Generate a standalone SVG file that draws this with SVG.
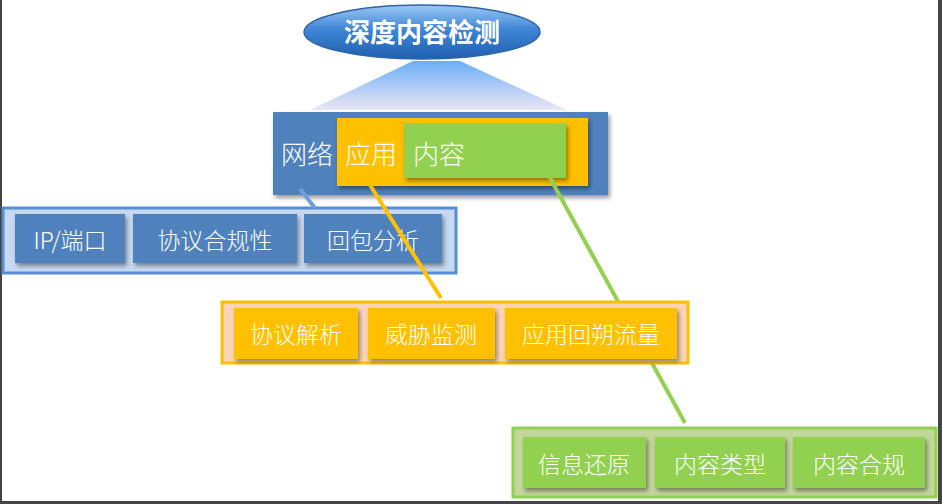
<svg xmlns="http://www.w3.org/2000/svg" width="942" height="504" viewBox="0 0 942 504">
<defs>
<linearGradient id="ell" x1="0" y1="0" x2="0" y2="1"><stop offset="0" stop-color="#9cc8f5"/><stop offset="0.45" stop-color="#3f86d6"/><stop offset="1" stop-color="#1f5fae"/></linearGradient>
<linearGradient id="trap" x1="0" y1="0" x2="0" y2="1"><stop offset="0" stop-color="#6aaef5"/><stop offset="1" stop-color="#eae6f5"/></linearGradient>
<filter id="sh" x="-10%" y="-10%" width="130%" height="140%"><feDropShadow dx="2" dy="3" stdDeviation="2" flood-color="#000" flood-opacity="0.4"/></filter>
</defs>
<style>
text{font-family:"Noto Sans CJK SC","Liberation Sans",sans-serif;fill:#fff}
.t{font-size:23px;text-anchor:middle;font-weight:300}
.big{font-size:26px;font-weight:300}
.b{fill:#4f81bd}.o{fill:#ffc000}.g{fill:#92d050}
</style>
<rect width="942" height="504" fill="#fff"/>
<rect x="0" y="0" width="2" height="504" fill="#444"/>
<rect x="938" y="0" width="4" height="504" fill="#444"/>
<rect x="0" y="501" width="942" height="3" fill="#444"/>
<g id="title">
<ellipse cx="422" cy="32" rx="118" ry="27" fill="url(#ell)" stroke="#2e64a8" stroke-width="1.5"/>
<text x="422" y="42" font-size="26" font-weight="bold" text-anchor="middle">深度内容检测</text>
</g>
<polygon points="413,61 460,61 567,110 310,110" fill="url(#trap)"/>
<g id="layers">
<rect x="273" y="112" width="335" height="83" class="b" filter="url(#sh)"/>
<rect x="337" y="118" width="251" height="68" class="o" filter="url(#sh)"/>
<rect x="404" y="123" width="162" height="55" class="g" filter="url(#sh)"/>
<text x="281" y="164" class="big">网络</text>
<text x="345" y="164" class="big">应用</text>
<text x="413" y="164" class="big">内容</text>
</g>
<g id="network-row">
<rect x="3" y="208" width="453" height="65" fill="#c6d9f1" stroke="#558ed5" stroke-width="3"/>
<rect x="15" y="214" width="110" height="49" class="b" filter="url(#sh)"/>
<rect x="133" y="214" width="164" height="49" class="b" filter="url(#sh)"/>
<rect x="304" y="214" width="138" height="49" class="b" filter="url(#sh)"/>
<text x="70" y="249" class="t">IP/端口</text>
<text x="215" y="249" class="t">协议合规性</text>
<text x="373" y="249" class="t">回包分析</text>
</g>
<g id="connectors" stroke-width="4" fill="none">
<line x1="300" y1="189" x2="315" y2="208" stroke="#6e9fdc"/>
<line x1="370" y1="185" x2="441" y2="298" stroke="#ffc000"/>
<line x1="550" y1="178" x2="685" y2="423" stroke="#92d050"/>
</g>
<g id="app-row">
<rect x="222" y="302" width="466" height="61" fill="#fbd5b5" stroke="#ffc000" stroke-width="3"/>
<rect x="234" y="308" width="124" height="51" class="o" filter="url(#sh)"/>
<rect x="368" y="308" width="127" height="51" class="o" filter="url(#sh)"/>
<rect x="505" y="308" width="172" height="51" class="o" filter="url(#sh)"/>
<text x="296" y="343" class="t">协议解析</text>
<text x="431" y="343" class="t">威胁监测</text>
<text x="591" y="343" class="t">应用回朔流量</text>
</g>
<g id="content-row">
<rect x="513" y="428" width="423" height="69" fill="#c3d69b" stroke="#92d050" stroke-width="3"/>
<rect x="523" y="437" width="123" height="51" class="g" filter="url(#sh)"/>
<rect x="655" y="437" width="130" height="51" class="g" filter="url(#sh)"/>
<rect x="793" y="437" width="132" height="51" class="g" filter="url(#sh)"/>
<text x="584" y="473" class="t">信息还原</text>
<text x="720" y="473" class="t">内容类型</text>
<text x="859" y="473" class="t">内容合规</text>
</g>
</svg>
